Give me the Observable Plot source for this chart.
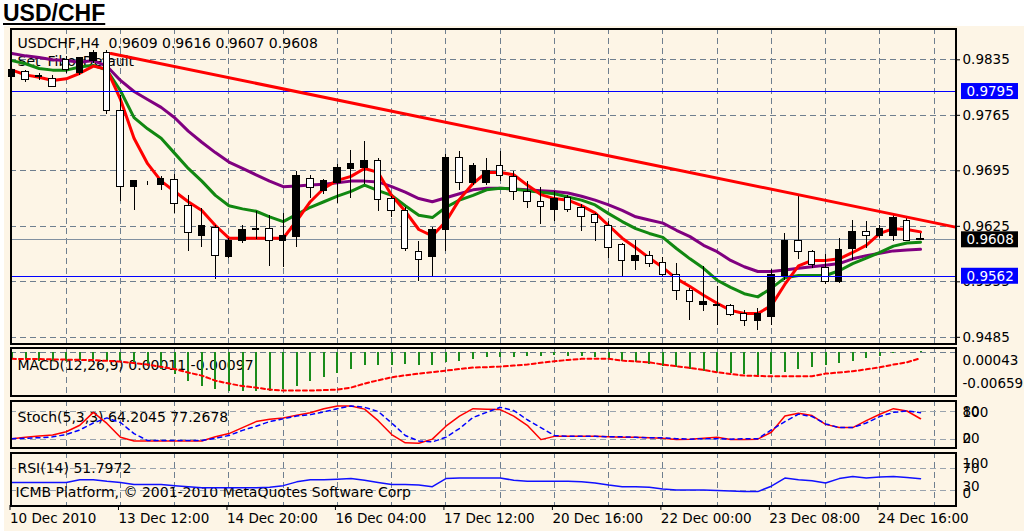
<!DOCTYPE html>
<html><head><meta charset="utf-8">
<script src="https://cdn.jsdelivr.net/npm/d3@7"></script>
<script src="https://cdn.jsdelivr.net/npm/@observablehq/plot@0.6"></script>
<style>
html,body{margin:0;padding:0;background:#fff;}
#wrap{position:relative;width:1024px;height:531px;overflow:hidden;font-family:"DejaVu Sans",sans-serif;}
#title{position:absolute;left:3px;top:2px;font:bold 23px/23px "Liberation Sans",Arial,sans-serif;text-decoration:underline;color:#000;}
#bg{position:absolute;left:4px;top:26px;width:1020px;height:505px;background:#FDF5E6;}
.panel{position:absolute;left:0;}
.panel svg{overflow:visible;display:block;}
</style></head><body>
<div id="wrap"><div id="title">USD/CHF</div><div id="bg"></div></div>
<script>
// ---------- DATA ----------
const open = [0.9813,0.9820,0.9815,0.9811,0.9835,0.9818,0.9833,0.9844,0.9771,0.9674,
0.9679,0.9677,0.9684,0.9651,0.9613,0.9623,0.9586,0.9606,0.9620,0.9622,
0.9606,0.9611,0.9685,0.9669,0.9680,0.9697,0.9699,0.9707,0.9659,0.9644,
0.9593,0.9586,0.9620,0.9711,0.9680,0.9680,0.9701,0.9687,0.9668,0.9656,
0.9645,0.9661,0.9648,0.9639,0.9626,0.9601,0.9581,0.9588,0.9579,0.9564,
0.9543,0.9526,0.9525,0.9525,0.9514,0.9505,0.9511,0.9562,0.9607,0.9592,
0.9573,0.9555,0.9597,0.9618,0.9613,0.9613,0.9632,0.9609];
const high = [0.9824,0.9822,0.9818,0.9815,0.9839,0.9838,0.9847,0.9847,0.9790,0.9683,
0.9682,0.9688,0.9690,0.9664,0.9648,0.9626,0.9610,0.9626,0.9644,0.9639,
0.9641,0.9694,0.9689,0.9684,0.9703,0.9721,0.9732,0.9711,0.9663,0.9649,
0.9606,0.9623,0.9716,0.9719,0.9704,0.9711,0.9719,0.9694,0.9682,0.9674,
0.9669,0.9664,0.9653,0.9641,0.9631,0.9603,0.9607,0.9593,0.9586,0.9578,
0.9547,0.9574,0.9549,0.9526,0.9519,0.9521,0.9571,0.9616,0.9663,0.9595,
0.9590,0.9610,0.9632,0.9631,0.9626,0.9639,0.9636,0.9616];
const low = [0.9795,0.9806,0.9809,0.9800,0.9818,0.9815,0.9830,0.9766,0.9656,0.9645,
0.9677,0.9670,0.9641,0.9593,0.9598,0.9558,0.9584,0.9603,0.9608,0.9574,
0.9573,0.9598,0.9660,0.9665,0.9654,0.9660,0.9678,0.9644,0.9636,0.9593,
0.9555,0.9560,0.9593,0.9670,0.9677,0.9677,0.9682,0.9658,0.9648,0.9627,
0.9631,0.9642,0.9618,0.9606,0.9584,0.9560,0.9569,0.9573,0.9560,0.9532,
0.9506,0.9518,0.9500,0.9511,0.9499,0.9494,0.9500,0.9557,0.9583,0.9572,
0.9552,0.9553,0.9582,0.9597,0.9610,0.9606,0.9606,0.9607];
const close = [0.9822,0.9809,0.9813,0.9801,0.9822,0.9837,0.9844,0.9771,0.9674,0.9682,
0.9679,0.9685,0.9653,0.9616,0.9626,0.9588,0.9607,0.9620,0.9622,0.9607,
0.9613,0.9688,0.9673,0.9682,0.9698,0.9703,0.9708,0.9658,0.9644,0.9596,
0.9583,0.9620,0.9711,0.9680,0.9701,0.9695,0.9688,0.9668,0.9656,0.9649,
0.9660,0.9645,0.9637,0.9629,0.9598,0.9581,0.9587,0.9577,0.9564,0.9543,
0.9529,0.9529,0.9526,0.9513,0.9505,0.9514,0.9563,0.9607,0.9592,0.9576,
0.9555,0.9595,0.9618,0.9613,0.9622,0.9636,0.9607,0.9608];

const redMA = [0.9822,0.9816,0.9813,0.9809,0.9811,0.9818,0.9827,0.9823,0.9785,0.9736,
0.9704,0.9682,0.9669,0.9656,0.9645,0.9626,0.9610,0.9610,0.9610,0.9610,
0.9610,0.9632,0.9656,0.9673,0.9683,0.9688,0.9698,0.9693,0.9664,0.9644,
0.9621,0.9613,0.9631,0.9659,0.9679,0.9693,0.9693,0.9690,0.9677,0.9665,
0.9660,0.9658,0.9651,0.9642,0.9626,0.9610,0.9598,0.9585,0.9573,0.9559,
0.9549,0.9538,0.9528,0.9519,0.9515,0.9515,0.9525,0.9552,0.9575,0.9582,
0.9582,0.9584,0.9592,0.9601,0.9616,0.9622,0.9621,0.9618];
const greenMA = [0.9834,0.9830,0.9824,0.9822,0.9822,0.9826,0.9828,0.9822,0.9796,0.9762,
0.9748,0.9736,0.9717,0.9698,0.9682,0.9664,0.9651,0.9647,0.9644,0.9637,
0.9631,0.9640,0.9649,0.9656,0.9663,0.9669,0.9677,0.9670,0.9664,0.9651,
0.9639,0.9636,0.9649,0.9658,0.9664,0.9671,0.9673,0.9672,0.9670,0.9668,
0.9666,0.9662,0.9658,0.9652,0.9641,0.9631,0.9622,0.9616,0.9611,0.9597,
0.9584,0.9572,0.9557,0.9548,0.9540,0.9536,0.9547,0.9560,0.9563,0.9563,
0.9563,0.9569,0.9578,0.9585,0.9592,0.9600,0.9604,0.9605];
const purpleMA = [0.9843,0.9840,0.9838,0.9835,0.9834,0.9832,0.9834,0.9827,0.9809,0.9795,
0.9785,0.9775,0.9762,0.9745,0.9731,0.9718,0.9706,0.9698,0.9690,0.9682,
0.9675,0.9676,0.9677,0.9678,0.9680,0.9682,0.9682,0.9681,0.9675,0.9668,
0.9660,0.9656,0.9661,0.9666,0.9671,0.9673,0.9673,0.9672,0.9671,0.9670,
0.9669,0.9667,0.9663,0.9658,0.9652,0.9645,0.9637,0.9633,0.9629,0.9620,
0.9612,0.9601,0.9593,0.9582,0.9574,0.9568,0.9568,0.9570,0.9572,0.9574,
0.9576,0.9578,0.9584,0.9588,0.9591,0.9594,0.9595,0.9596];

const trendBar = [7.3, 69.58];
const trendPrice = [0.9843, 0.9624];
const blueLevels = [0.9795, 0.9562];
const bidPrice = 0.9608;
const boxLevels = [0.9795, 0.9608, 0.9562];
const boxColors = ["#0000FF", "#000000", "#0000FF"];
const priceTicks = [0.9835, 0.9765, 0.9695, 0.9625, 0.9555, 0.9485];

const macdHist = [-0.0012,-0.0012,-0.00146,-0.00146,-0.00146,-0.00136,-0.0012,-0.00146,-0.00173,-0.00199,
-0.00226,-0.00279,-0.00359,-0.00465,-0.00545,-0.00598,-0.00624,-0.00635,-0.00635,-0.00624,
-0.00598,-0.00545,-0.00476,-0.00412,-0.00348,-0.00279,-0.0021,-0.0021,-0.0021,-0.00199,
-0.0021,-0.0021,-0.00173,-0.00146,-0.0012,-0.00093,-0.00093,-0.00082,-0.00066,-0.00066,
-0.00056,-0.00066,-0.00066,-0.00093,-0.0012,-0.00146,-0.00173,-0.00199,-0.00226,-0.00253,
-0.00279,-0.00306,-0.00332,-0.00348,-0.00359,-0.0037,-0.00359,-0.00332,-0.00279,-0.00253,
-0.0021,-0.00189,-0.00146,-0.00104,-0.00066,-0.00029,-0.00013,0.00011];
const macdSignal = [-0.00108,-0.0011,-0.00112,-0.00116,-0.0012,-0.00124,-0.00128,-0.0014,-0.00152,-0.00175,
-0.00199,-0.00235,-0.00271,-0.00327,-0.00375,-0.00455,-0.00502,-0.00542,-0.00566,-0.00598,
-0.00614,-0.00614,-0.00614,-0.00606,-0.00598,-0.00566,-0.00502,-0.0045,-0.00402,-0.0037,
-0.00343,-0.0032,-0.00295,-0.0027,-0.00247,-0.0024,-0.00231,-0.00215,-0.00199,-0.0017,
-0.00147,-0.00125,-0.00108,-0.00108,-0.00108,-0.00136,-0.0015,-0.00163,-0.00199,-0.00225,
-0.00252,-0.00285,-0.00322,-0.0035,-0.00375,-0.0038,-0.00386,-0.00386,-0.00386,-0.00386,
-0.00343,-0.00325,-0.00306,-0.00275,-0.00243,-0.00199,-0.00163,-0.00097];
const macdLabels = [0.00043, -0.00659];

const stochMain = [21,24,27,29,36,50,78,54,24,16,
16,16,16,16,16,25,32,45,58,63,
66,72,77,86,92,92,85,60,30,12,
11,20,48,70,86,85,84,70,50,19,
26,26,26,26,25,24,24,23,22,19,
20,22,24,19,19,20,35,70,76,71,
52,45,45,60,74,86,81,64.2045];
const stochSignal = [21,22,23,25,30,40,55,66,56,32,
17,17,17,17,17,22,28,39,48,58,
64,70,73,79,86,92,89,80,55,28,
16,14,24,43,67,78,89,82,62,45,
28,26,26,26,25,25,24,23,23,21,
20,21,21,20,21,21,40,58,74,69,
53,45,45,55,69,78,81,77.2678];
const stochLevels = [80, 20];
const stochLabels = [100, 80, 20, 0];

const rsi = [45,45,45,45,45,50,50,47,45,41,
41,41,39,37,35,35,35,35,35,36,
39,46,50,50,51,52,49,45,41,41,
40,37,52,53,53,53,53,49,47,47,
47,47,46,44,40,37,37,36,33,31,
31,31,30,29,28,28,38,53,50,48,
44,52,56,53,55,56,54,51.7972];
const rsiLevels = [70, 30];
const rsiLabels = [100, 70, 30, 0];

const gridBars = [4,8,12,16,20,24,28,32,36,40,44,48,52,56,60,64,68];
const xTickBars = [0,8,16,24,32,40,48,56,64];
const xTickLabels = ["10 Dec 2010","13 Dec 12:00","14 Dec 20:00","16 Dec 04:00","17 Dec 12:00","20 Dec 16:00","22 Dec 00:00","23 Dec 08:00","24 Dec 16:00"];

const headerText = "USDCHF,H4  0.9609 0.9616 0.9607 0.9608";
const objectText = "Set_Fibo_Default";
const macdText = "MACD(12,26,9) 0.00011 -0.00097";
const stochText = "Stoch(5,3,3) 64.2045 77.2678";
const rsiText = "RSI(14) 51.7972";
const copyText = "ICMB Platform, © 2001-2010 MetaQuotes Software Corp";

// ---------- CHART ----------
const idx = d3.range(open.length);
const gridColor = "#6F7F8F";
const dash = "6,4";
const FONT = 14, AXFONT = 13.5;
const xDomain = [-0.11, 69.58];
const style = {background:"transparent", overflow:"visible", fontFamily:'"DejaVu Sans", sans-serif', fontSize:"13px", color:"black"};
const base = {width:1024, marginLeft:10, marginRight:69, marginTop:0, marginBottom:0, style};
const wrap = document.getElementById("wrap");
function place(svg, top){ const d=document.createElement("div"); d.className="panel"; d.style.top=top+"px"; d.appendChild(svg); wrap.appendChild(d); return svg; }
const fmt4 = d3.format(".4f");
const crisp = {shapeRendering:"crispEdges"};
const labelOpts = {frameAnchor:"right", dx:7, textAnchor:"start", lineAnchor:"middle", fontSize:AXFONT, fill:"black"};
const panelText = (t, dy, dx=7) => Plot.text([t], {text:d=>d, frameAnchor:"top-left", dx, dy, textAnchor:"start", lineAnchor:"middle", fontSize:FONT});

// Main price panel
const main = Plot.plot({...base, height:315,
  x:{domain:xDomain, axis:null},
  y:{domain:[0.94772, 0.98745]},
  marks:[
    Plot.ruleY(priceTicks, {stroke:gridColor, strokeDasharray:dash, ...crisp}),
    Plot.ruleX(gridBars, {stroke:gridColor, strokeDasharray:dash, ...crisp}),
    panelText(headerText, 15.5),
    panelText(objectText, 33),
    Plot.ruleY([bidPrice], {stroke:"#8190A0", ...crisp}),
    Plot.line(idx, {x:i=>i, y:i=>purpleMA[i], stroke:"#800080", strokeWidth:3}),
    Plot.line(idx, {x:i=>i, y:i=>greenMA[i], stroke:"#118811", strokeWidth:3}),
    Plot.line(idx, {x:i=>i, y:i=>redMA[i], stroke:"#FF0000", strokeWidth:3}),
    Plot.ruleX(idx, {x:i=>i, y1:i=>low[i], y2:i=>high[i], stroke:"black", ...crisp}),
    Plot.rect(idx, {x1:i=>i-0.24, x2:i=>i+0.24, y1:i=>open[i], y2:i=>close[i], fill:i=>close[i]>open[i]?"black":"white", stroke:"black", ...crisp}),
    Plot.ruleY(blueLevels, {stroke:"#0000FF", ...crisp}),
    Plot.line(trendBar.map((b,k)=>[b, trendPrice[k]]), {stroke:"#FF0000", strokeWidth:3}),
    Plot.axisY(priceTicks, {anchor:"right", tickSize:4, tickPadding:3, tickFormat:fmt4, fontSize:AXFONT}),
    Plot.frame({stroke:"black", strokeWidth:2, ...crisp}),
    Plot.text(boxLevels, {y:d=>d, text:d=>fmt4(d), frameAnchor:"right", dx:11, textAnchor:"start", lineAnchor:"middle", fill:"white", fontSize:AXFONT})
  ]
});
place(main, 28);
// label boxes behind the last (price box text) mark, positioned with the plot's own scales
{
  const ySc = main.scale("y"), xSc = main.scale("x");
  const right = Math.max(...xSc.range);
  const gBox = d3.create("svg:g");
  boxLevels.forEach((v,k)=>{
    gBox.append("rect").attr("x", right+6).attr("y", ySc.apply(v)-8).attr("width", 57).attr("height", 16).attr("fill", boxColors[k]);
  });
  const gs = main.querySelectorAll(":scope > g");
  const lastG = gs[gs.length-1];
  main.insertBefore(gBox.node(), lastG);
}

// MACD panel
const macdDy = [11, -10];
const macd = Plot.plot({...base, height:48,
  x:{domain:xDomain, axis:null},
  y:{domain:[-0.00692, 0.00073], axis:null},
  marks:[
    Plot.ruleX(gridBars, {stroke:gridColor, strokeDasharray:dash, ...crisp}),
    Plot.ruleY([0], {stroke:gridColor, strokeDasharray:dash, ...crisp}),
    panelText(macdText, 18),
    Plot.ruleX(idx, {x:i=>i, y1:0, y2:i=>macdHist[i], stroke:"#1A8C1A", strokeWidth:2, ...crisp}),
    Plot.line(idx, {x:i=>i, y:i=>macdSignal[i], stroke:"#FF0000", strokeWidth:2, strokeDasharray:"4,3"}),
    ...macdLabels.map((v,k)=>Plot.text([v], {...labelOpts, y:d=>d, text:d=>d3.format(".5f")(d).replace("−","-"), dy:macdDy[k]})),
    Plot.frame({stroke:"black", strokeWidth:2, ...crisp})
  ]
});
place(macd, 347);

// Stochastic panel
const stochDy = [10, 0.5, 0, -9.5];
const stoch = Plot.plot({...base, height:47,
  x:{domain:xDomain, axis:null},
  y:{domain:[1.9, 103.7], axis:null},
  marks:[
    Plot.ruleX(gridBars, {stroke:gridColor, strokeDasharray:dash, ...crisp}),
    Plot.ruleY(stochLevels, {stroke:"#9AA4AE", strokeDasharray:dash, ...crisp}),
    panelText(stochText, 16.7),
    Plot.line(idx, {x:i=>i, y:i=>stochMain[i], stroke:"#FF0000", strokeWidth:1.5}),
    Plot.line(idx, {x:i=>i, y:i=>stochSignal[i], stroke:"#0000FF", strokeWidth:1.5, strokeDasharray:"4,4"}),
    ...stochLabels.map((v,k)=>Plot.text([v], {...labelOpts, y:d=>d, text:d=>String(d), dy:stochDy[k]})),
    Plot.frame({stroke:"black", strokeWidth:2, ...crisp})
  ]
});
place(stoch, 400);

// RSI panel + time axis
const rsiDy = [11, 0, -3.5, -13];
const rsiPlot = Plot.plot({...base, height:79, marginBottom:26,
  x:{domain:xDomain},
  y:{domain:[2.4, 100.1], axis:null},
  marks:[
    Plot.ruleX(gridBars, {stroke:gridColor, strokeDasharray:dash, ...crisp}),
    Plot.ruleY(rsiLevels, {stroke:"#9AA4AE", strokeDasharray:dash, ...crisp}),
    panelText(rsiText, 16.3),
    panelText(copyText, 39.7, 5),
    Plot.line(idx, {x:i=>i, y:i=>rsi[i], stroke:"#1010FF", strokeWidth:1.5}),
    ...rsiLabels.map((v,k)=>Plot.text([v], {...labelOpts, y:d=>d, text:d=>String(d), dy:rsiDy[k]})),
    Plot.frame({stroke:"black", strokeWidth:2, ...crisp}),
    Plot.axisX(xTickBars, {anchor:"bottom", tickSize:5, tickPadding:3, textAnchor:"start", dx:-2, fontSize:AXFONT, tickFormat:d=>xTickLabels[xTickBars.indexOf(d)]})
  ]
});
place(rsiPlot, 452);
</script>
</body></html>
